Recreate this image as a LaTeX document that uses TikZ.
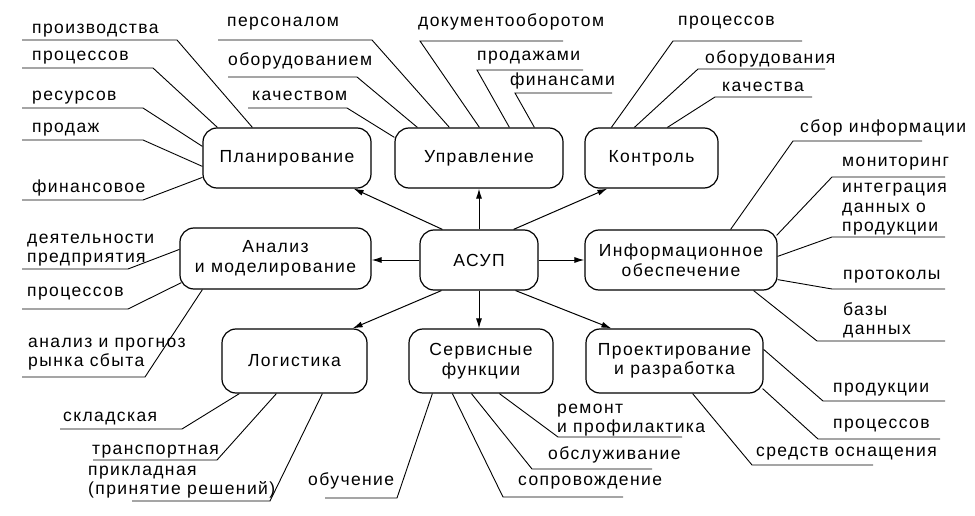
\documentclass[tikz,border=0pt]{standalone}
\usepackage{fontspec}
\setmainfont[LetterSpace=8]{Liberation Sans}
\usetikzlibrary{arrows.meta,calc}
\tikzset{
  unitbox/.style={draw,line width=1.2pt,rounded corners=14pt,align=center,inner sep=0pt},
  lab/.style={anchor=south west,inner sep=0pt,text depth=0pt,align=left},
  leader/.style={line width=0.9pt},
  link/.style={-{Latex[length=10pt,width=6pt]},line width=1pt}
}
\newcommand{\branch}[6]{% {name}{box point}{knee}{end}{text at}{text}
  \coordinate (#1k) at (#3);
  \coordinate (#1e) at (#4);
  \node[lab] (#1) at (#5) {#6};
  \draw[leader] (#2) -- (#1k) -- (#1e);
}

\begin{document}
\begin{tikzpicture}[x=1pt,y=-1pt,font=\fontsize{17.5}{19.5}\selectfont]
  \fill[white] (0,0) rectangle (975,516);
  \useasboundingbox (0,0) rectangle (975,516);
  % Boxes
  \node[unitbox,minimum width=168pt,minimum height=60pt] (plan) at (287,158) {Планирование};
  \node[unitbox,minimum width=168pt,minimum height=60pt] (upr) at (479,158) {Управление};
  \node[unitbox,minimum width=133pt,minimum height=60pt] (kontr) at (651.5,158) {Контроль};
  \node[unitbox,minimum width=191pt,minimum height=61pt] (anal) at (275.5,258.5) {Анализ\\и моделирование};
  \node[unitbox,minimum width=118pt,minimum height=60pt] (asup) at (479,260) {АСУП};
  \node[unitbox,minimum width=192pt,minimum height=60pt] (info) at (681,260) {Информационное\\обеспечение};
  \node[unitbox,minimum width=145pt,minimum height=64pt] (log) at (294.5,361) {Логистика};
  \node[unitbox,minimum width=144pt,minimum height=64pt] (serv) at (481,361) {Сервисные\\функции};
  \node[unitbox,minimum width=177pt,minimum height=64pt] (proj) at (674.5,361) {Проектирование\\и разработка};
  % Arrows from the centre
  \draw[link] ($(asup.north west)+(23,0)$) -- ($(plan.south east)+(-18,0)$);
  \draw[link] (asup.north) -- (asup.north |- upr.south);
  \draw[link] ($(asup.north east)+(-25,0)$) -- ($(kontr.south west)+(23,0)$);
  \draw[link] (asup.west) -- (asup.west -| anal.east);
  \draw[link] (asup.east) -- (asup.east -| info.west);
  \draw[link] ($(asup.south west)+(22,0)$) -- ($(log.north east)+(-15,0)$);
  \draw[link] (asup.south) -- (asup.south |- serv.north);
  \draw[link] ($(asup.south east)+(-23,0)$) -- ($(proj.north west)+(26,0)$);
  % Planning
  \branch{pl1}{$(plan.north west)+(50,0)$}{177,40}{22,40}{32,34}{производства}
  \branch{pl2}{$(plan.north west)+(15,0)$}{153,68}{22,68}{32,61}{процессов}
  \branch{pl3}{$(plan.north west)+(0,19)$}{143,108}{22,108}{32,101}{ресурсов}
  \branch{pl4}{$(plan.north west)+(0,39)$}{143,140}{22,140}{32,133}{продаж}
  \branch{pl5}{$(plan.north west)+(0,50)$}{143,200}{22,200}{32,193}{финансовое}
  % Management
  \branch{up1}{$(upr.north west)+(55,0)$}{372,40}{218,40}{227,27}{персоналом}
  \branch{up2}{$(upr.north west)+(23,0)$}{357,77}{228,77}{228,66}{оборудованием}
  \branch{up3}{$(upr.north west)+(0,10)$}{347,108}{248,108}{252,101}{качеством}
  \branch{up4}{$(upr.north west)+(85,0)$}{420,41}{563,41}{418,27}{документооборотом}
  \branch{up5}{$(upr.north west)+(115,0)$}{477,70}{583,70}{477,61}{продажами}
  \branch{up6}{$(upr.north west)+(140,0)$}{515,93}{612,93}{510,86}{финансами}
  % Control
  \branch{ko1}{$(kontr.north west)+(27,0)$}{673,41}{802,41}{678,26}{процессов}
  \branch{ko2}{$(kontr.north west)+(50,0)$}{698,69}{825,69}{705,64}{оборудования}
  \branch{ko3}{$(kontr.north west)+(83,0)$}{715,97}{812,97}{722,92}{качества}
  % Information
  \branch{in1}{$(info.north east)+(-47,0)$}{793,141}{922,141}{800,133}{сбор информации}
  \branch{in2}{$(info.north east)+(-1,6)$}{832,177}{945,177}{842,167}{мониторинг}
  \branch{in3}{$(info.north east)+(0,27)$}{832,237}{945,237}{842,232}{интеграция\\данных о\\продукции}
  \branch{in4}{$(info.south east)+(0,-11)$}{832,289}{945,289}{843,280}{протоколы}
  \branch{in5}{$(info.south east)+(-24,0)$}{817,341}{945,341}{843,335}{базы\\данных}
  % Design
  \branch{pr1}{$(proj.north east)+(0,21)$}{823,401}{945,401}{833,393}{продукции}
  \branch{pr2}{$(proj.south east)+(-1,-5)$}{818,439}{940,439}{833,429}{процессов}
  \branch{pr3}{$(proj.south east)+(-71,0)$}{752,465}{873,465}{756,457}{средств оснащения}
  % Service
  \branch{se1}{$(serv.south west)+(91,0)$}{558,437}{682,437}{557,433}{ремонт\\и профилактика}
  \branch{se2}{$(serv.south west)+(63,0)$}{532,469}{652,469}{548,460}{обслуживание}
  \branch{se3}{$(serv.south west)+(44,0)$}{503,497}{623,497}{518,486}{сопровождение}
  \branch{se4}{$(serv.south west)+(24,0)$}{397,498}{325,498}{308,486}{обучение}
  % Logistics
  \branch{lo1}{$(log.south west)+(18,0)$}{182,429}{60,429}{63,422}{складская}
  \branch{lo2}{$(log.south west)+(55,0)$}{217,460}{93,460}{92,455}{транспортная}
  \branch{lo3}{$(log.south west)+(101,0)$}{270,501}{132,501}{88,495}{прикладная\\(принятие решений)}
  % Analysis
  \branch{an1}{$(anal.north west)+(0,22)$}{128,269}{22,269}{27,263}{деятельности\\предприятия}
  \branch{an2}{$(anal.south west)+(2,-7)$}{128,309}{22,309}{27,297}{процессов}
  \branch{an3}{$(anal.south west)+(23,0)$}{145,377}{22,377}{28,367}{анализ и прогноз\\рынка сбыта}
\end{tikzpicture}
\end{document}
